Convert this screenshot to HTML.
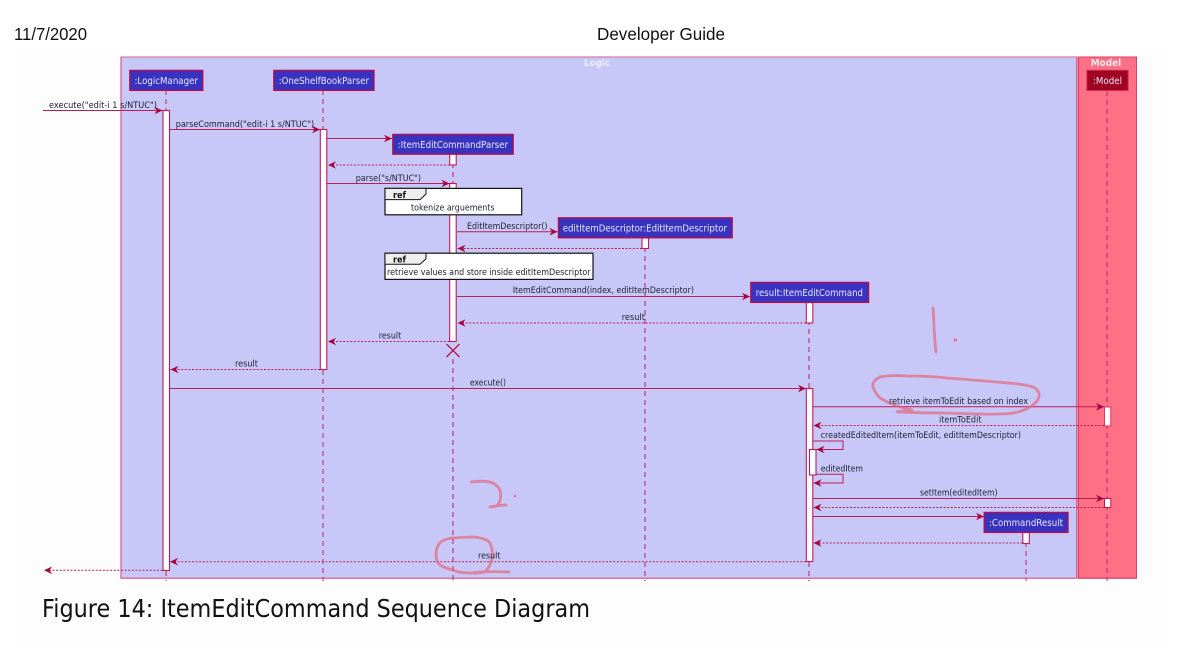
<!DOCTYPE html>
<html>
<head>
<meta charset="utf-8">
<style>
html,body{margin:0;padding:0;background:#fff;width:1198px;height:649px;overflow:hidden}
svg{display:block}
.l{font:9.1px "DejaVu Sans",sans-serif;fill:#1e1e30}
.a{font:9.6px "DejaVu Sans",sans-serif;fill:#e8e8fc}
.b{font:bold 9.2px "DejaVu Sans",sans-serif;fill:#111}
.m{stroke:#bb1c52;stroke-width:1;fill:none}
.r{stroke:#bb1c52;stroke-width:1;fill:none;stroke-dasharray:2 1.6}
.ll{stroke:#c02a62;stroke-width:1;stroke-dasharray:5 4;fill:none}
.lw{stroke:#bd5596;stroke-width:1.5;stroke-dasharray:5 4;fill:none}
.act{fill:#fff;stroke:#bb1f56;stroke-width:1.1}
.box{fill:#3730c0;stroke:#b80c48;stroke-width:1.3}
.ref{fill:#fff;stroke:#111;stroke-width:1.2}
.h{fill:none;stroke:#e2657c;stroke-width:2.8;stroke-linecap:round;stroke-linejoin:round;opacity:.7}
</style>
</head>
<body>
<svg width="1198" height="649" viewBox="0 0 1198 649" xmlns="http://www.w3.org/2000/svg">
<defs>
<marker id="ah" markerUnits="userSpaceOnUse" markerWidth="10" markerHeight="9" refX="8" refY="4" orient="auto">
<path d="M0,0.2 L8,4 L0,7.8 L2.4,4 Z" fill="#a80640"/>
</marker>
<filter id="s" x="0" y="0" width="100%" height="100%"><feGaussianBlur stdDeviation="0.22"/></filter>
</defs>

<rect x="18" y="55" width="1148" height="594" fill="#fdfdfd"/>
<text x="14" y="40" font-family="'Liberation Sans',sans-serif" font-size="17.4" fill="#111" textLength="73" lengthAdjust="spacingAndGlyphs">11/7/2020</text>
<text x="597" y="40" font-family="'Liberation Sans',sans-serif" font-size="17.4" fill="#111" textLength="128" lengthAdjust="spacingAndGlyphs">Developer Guide</text>
<text x="42" y="617" font-family="'DejaVu Sans',sans-serif" font-size="25" fill="#111" textLength="548" lengthAdjust="spacingAndGlyphs">Figure 14: ItemEditCommand Sequence Diagram</text>

<g filter="url(#s)">
<rect x="121" y="56.8" width="955.7" height="521.4" fill="#c8c8f8" stroke="#d55c89" stroke-width="1.2"/>
<rect x="1078.3" y="56.8" width="58.4" height="521.4" fill="#fd7085" stroke="#d83a62" stroke-width="1.2"/>

<!-- lifelines -->
<path class="ll" d="M166 90V110M166 571V581"/>
<path class="ll" d="M323 90V129M323 370V581"/>
<path class="lw" d="M453 154V183M453 359V581"/>
<path class="lw" d="M645 238V581"/>
<path class="lw" d="M809 302V388M809 562V581"/>
<path class="ll" d="M1026 533V581"/>
<path class="ll" d="M1107 91V581"/>

<!-- activations -->
<rect class="act" x="163" y="110.5" width="6.5" height="460"/>
<rect class="act" x="320.3" y="129.5" width="6.5" height="240"/>
<rect class="act" x="449.7" y="154" width="6.5" height="11"/>
<rect class="act" x="449.7" y="183.5" width="6.5" height="158"/>
<rect class="act" x="642" y="238" width="6.5" height="10.5"/>
<rect class="act" x="806.3" y="302.5" width="6.5" height="20.5"/>
<rect class="act" x="806.3" y="388.5" width="6.5" height="173"/>
<rect class="act" x="809.5" y="449.5" width="6.5" height="25.5"/>
<rect x="1104.5" y="407" width="6.3" height="19" fill="#fff" stroke="#e0365f" stroke-width="1"/>
<rect x="1104.5" y="498.5" width="6.3" height="9" fill="#fff" stroke="#bb1f56" stroke-width="1"/>
<rect class="act" x="1022.8" y="532.5" width="6.5" height="11"/>

<!-- participants -->
<rect class="box" x="129.8" y="70.4" width="73" height="20"/>
<rect class="box" x="273.8" y="70.4" width="100.2" height="20"/>
<rect class="box" x="392.8" y="134.4" width="120.4" height="19.8"/>
<rect class="box" x="558.4" y="217.8" width="173.8" height="20"/>
<rect class="box" x="750.8" y="282.4" width="117.8" height="20"/>
<rect class="box" x="984.2" y="512.4" width="83.8" height="20"/>
<rect x="1086.8" y="70.2" width="41.4" height="20.4" fill="#a00020" stroke="#d03a60" stroke-width="1"/>

<!-- messages -->
<path class="m" marker-end="url(#ah)" d="M43 110.5H162.5"/>
<path class="m" marker-end="url(#ah)" d="M170 129.5H320"/>
<path class="m" marker-end="url(#ah)" d="M327 138.5H392"/>
<path class="r" marker-end="url(#ah)" d="M449.5 165H328"/>
<path class="m" marker-end="url(#ah)" d="M327 183.5H449.5"/>
<path class="m" marker-end="url(#ah)" d="M457 231.7H557.5"/>
<path class="r" marker-end="url(#ah)" d="M642 248.5H457.5"/>
<path class="m" marker-end="url(#ah)" d="M457 296.5H750"/>
<path class="r" marker-end="url(#ah)" d="M806 323H457.5"/>
<path class="r" marker-end="url(#ah)" d="M449.5 341.5H328"/>
<path class="r" marker-end="url(#ah)" d="M320 369.5H170.5"/>
<path class="m" marker-end="url(#ah)" d="M170 388.5H806"/>
<path class="m" marker-end="url(#ah)" d="M813 406.8H1104"/>
<path class="r" marker-end="url(#ah)" d="M1104 425.5H813.5"/>
<path class="m" marker-end="url(#ah)" d="M813 441H843V449.5H816.5"/>
<path class="m" marker-end="url(#ah)" d="M816 474.3H843V483H813.5"/>
<path class="m" marker-end="url(#ah)" d="M813 498.5H1104"/>
<path class="r" marker-end="url(#ah)" d="M1104 507.5H813.5"/>
<path class="m" marker-end="url(#ah)" d="M813 516.5H984"/>
<path class="r" marker-end="url(#ah)" d="M1022.5 543H813.5"/>
<path class="r" marker-end="url(#ah)" d="M806 561.7H170"/>
<path class="r" marker-end="url(#ah)" d="M162.5 570.3H44"/>

<!-- destroy -->
<path d="M446.5 344L459.5 357M459.5 344L446.5 357" stroke="#b81450" stroke-width="1.4" fill="none"/>

<!-- handwriting -->
<path class="h" d="M933 308C934 320 934 335 936 352"/>
<circle cx="955.3" cy="340" r="1.7" fill="#e2657c" opacity=".8"/>
<path class="h" d="M897 411.7C915 413 935 413 947 413C975 414 1000 415 1013 413C1025 411 1033 406 1037 401C1041 395 1039 390 1033 387C1020 383 1005 383 997 382C975 380 960 379 947 378C930 376 918 376 907 376C895 375 884 376 880 377C874 380 872 384 873 387C875 393 878 396 880 398C890 404 902 408 912 410C906 411 900 411 897 411.7"/>
<path class="h" d="M471.5 482C478 481 485 481 490 482C496 484 500 488 500.5 493C501 498 500 503 497.5 505C495 507 492 507 490 507C495 506 501 505 506 505"/>
<circle cx="515" cy="496" r="1.3" fill="#e2657c" opacity=".8"/>
<path class="h" d="M453.5 538C462 537 468 537 474.5 537C482 538 488 540 490 543C492 548 493 553 492 558C491 564 488 570 484 572C476 574 467 573 459 572C452 570 445 568 440 565C437 562 436 558 436 555C436 549 438 544 441 542C445 539 449 538 453.5 538M474.5 572.5C485 571.5 498 571.5 509 572"/>
</g>

<!-- group titles -->
<text x="584" y="66" font-family="'DejaVu Sans',sans-serif" font-weight="bold" font-size="9.6" fill="#eeeeff" textLength="26" lengthAdjust="spacingAndGlyphs">Logic</text>
<text x="1090.7" y="66" font-family="'DejaVu Sans',sans-serif" font-weight="bold" font-size="9.6" fill="#ffe8ec" textLength="30.5" lengthAdjust="spacingAndGlyphs">Model</text>

<!-- participant labels -->
<text class="a" x="134.5" y="83.8" textLength="63.5" lengthAdjust="spacingAndGlyphs">:LogicManager</text>
<text class="a" x="278.7" y="83.8" textLength="90.3" lengthAdjust="spacingAndGlyphs">:OneShelfBookParser</text>
<text class="a" x="397.7" y="147.8" textLength="110.3" lengthAdjust="spacingAndGlyphs">:ItemEditCommandParser</text>
<text class="a" x="562.7" y="231.3" textLength="164.3" lengthAdjust="spacingAndGlyphs">editItemDescriptor:EditItemDescriptor</text>
<text class="a" x="755.7" y="295.8" textLength="107.3" lengthAdjust="spacingAndGlyphs">result:ItemEditCommand</text>
<text class="a" x="989" y="526" textLength="74" lengthAdjust="spacingAndGlyphs">:CommandResult</text>
<text class="a" x="1093" y="83.8" textLength="29" lengthAdjust="spacingAndGlyphs">:Model</text>

<!-- refs -->
<rect class="ref" x="385" y="188.4" width="136.7" height="26.4"/>
<path d="M385 188.4H426V194L420 199.6H385Z" fill="#eeeeee" stroke="#111" stroke-width="1"/>
<rect class="ref" x="385" y="253.2" width="208" height="26.2"/>
<path d="M385 253.2H426V258.8L420 264.2H385Z" fill="#eeeeee" stroke="#111" stroke-width="1"/>
<text class="b" x="393" y="198" textLength="13" lengthAdjust="spacingAndGlyphs">ref</text>
<text class="b" x="393" y="262.7" textLength="13" lengthAdjust="spacingAndGlyphs">ref</text>
<text class="l" x="411" y="210.5" textLength="83.5" lengthAdjust="spacingAndGlyphs">tokenize arguements</text>
<text class="l" x="387" y="275" textLength="203.5" lengthAdjust="spacingAndGlyphs">retrieve values and store inside editItemDescriptor</text>

<!-- labels -->
<text class="l" x="49" y="108" textLength="108" lengthAdjust="spacingAndGlyphs">execute("edit-i 1 s/NTUC")</text>
<text class="l" x="175.7" y="126.8" textLength="138.5" lengthAdjust="spacingAndGlyphs">parseCommand("edit-i 1 s/NTUC")</text>
<text class="l" x="355.7" y="181" textLength="65.3" lengthAdjust="spacingAndGlyphs">parse("s/NTUC")</text>
<text class="l" x="467" y="229" textLength="80.5" lengthAdjust="spacingAndGlyphs">EditItemDescriptor()</text>
<text class="l" x="512.7" y="293" textLength="181.3" lengthAdjust="spacingAndGlyphs">ItemEditCommand(index, editItemDescriptor)</text>
<text class="l" x="621.7" y="320" textLength="23.3" lengthAdjust="spacingAndGlyphs">result</text>
<text class="l" x="378.7" y="338.5" textLength="22.5" lengthAdjust="spacingAndGlyphs">result</text>
<text class="l" x="235" y="366.5" textLength="23" lengthAdjust="spacingAndGlyphs">result</text>
<text class="l" x="470" y="385.5" textLength="36" lengthAdjust="spacingAndGlyphs">execute()</text>
<text class="l" x="889" y="404" textLength="139" lengthAdjust="spacingAndGlyphs">retrieve itemToEdit based on index</text>
<text class="l" x="939" y="422.7" textLength="42.5" lengthAdjust="spacingAndGlyphs">itemToEdit</text>
<text class="l" x="820.7" y="438" textLength="200.3" lengthAdjust="spacingAndGlyphs">createdEditedItem(itemToEdit, editItemDescriptor)</text>
<text class="l" x="820.7" y="471.7" textLength="42.3" lengthAdjust="spacingAndGlyphs">editedItem</text>
<text class="l" x="920" y="495.5" textLength="77.5" lengthAdjust="spacingAndGlyphs">setItem(editedItem)</text>
<text class="l" x="478" y="558.7" textLength="22.5" lengthAdjust="spacingAndGlyphs">result</text>
</svg>
</body>
</html>
